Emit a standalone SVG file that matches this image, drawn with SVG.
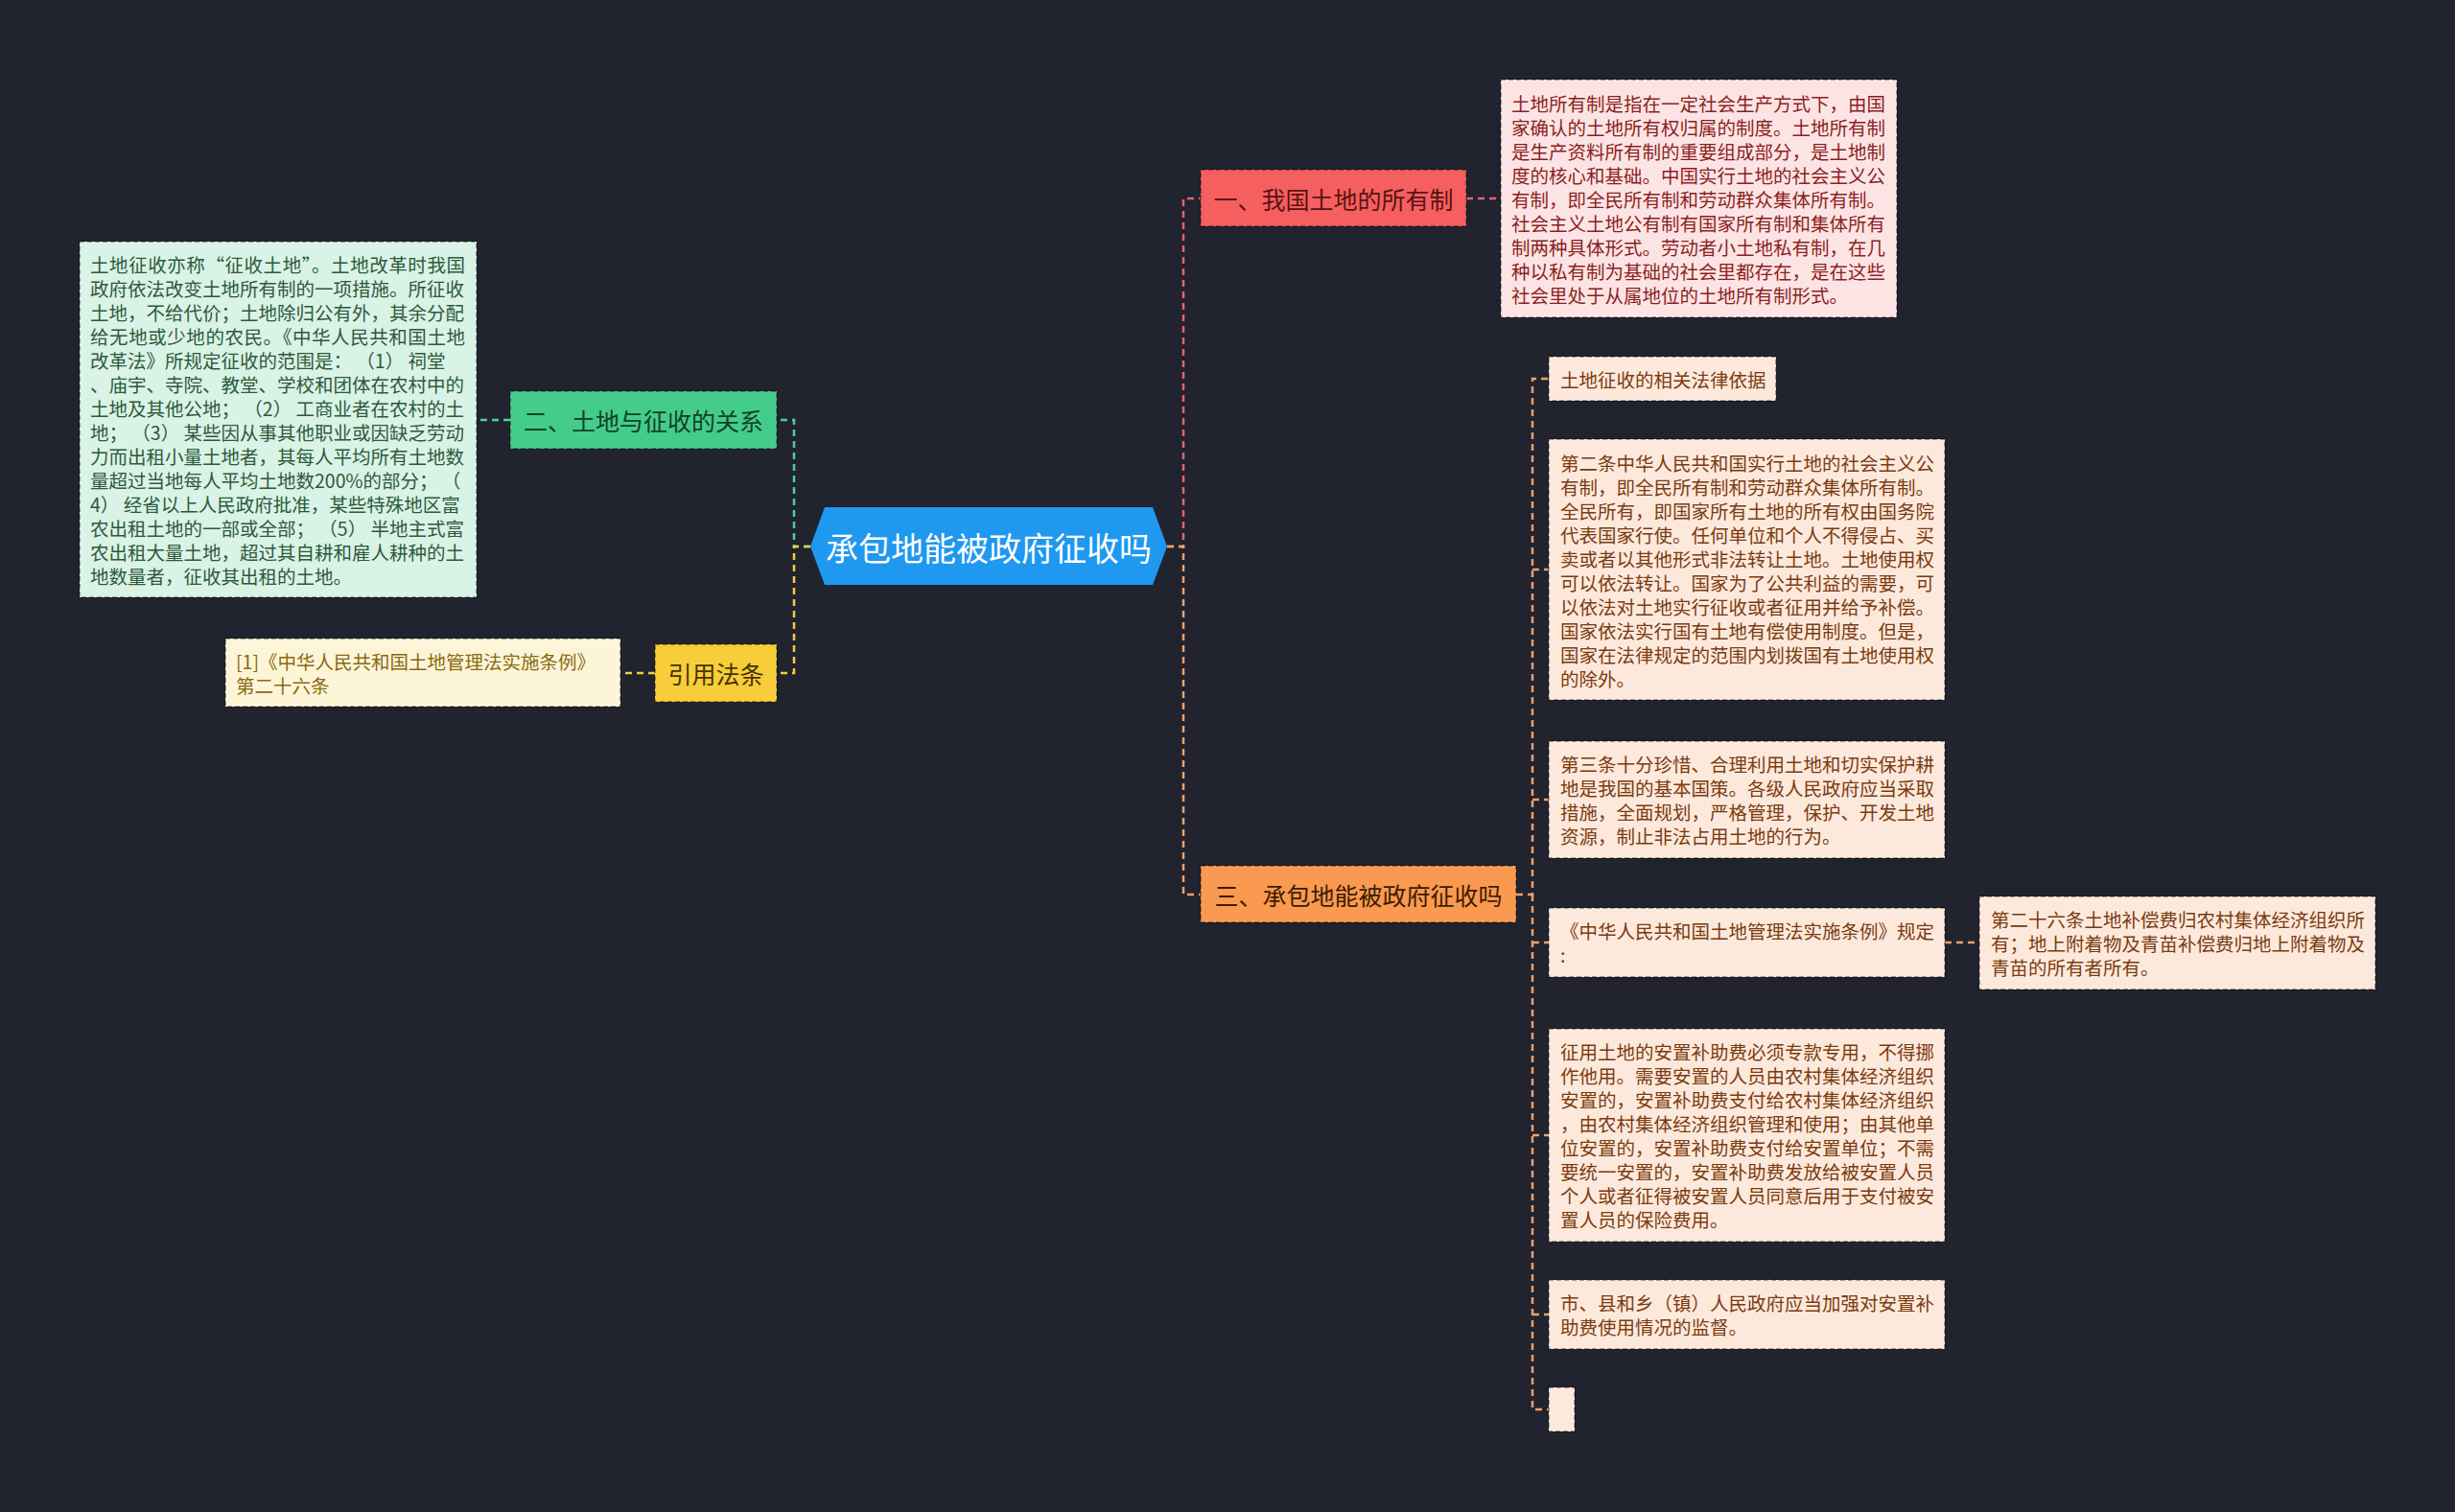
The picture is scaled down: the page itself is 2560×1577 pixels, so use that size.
<svg xmlns="http://www.w3.org/2000/svg" width="2560" height="1577" viewBox="0 0 2560 1577">
<style>
text{font-family:"Noto Sans CJK SC","Noto Sans",sans-serif;dominant-baseline:central}
.c{fill:none;stroke-width:2.5;stroke-dasharray:7 5}
.red{stroke:#e2646c}.org{stroke:#f2a068}.grn{stroke:#4ccf98}.yel{stroke:#f4cd3c}
.nb{stroke:#000;stroke-opacity:.45;stroke-width:1.5;stroke-dasharray:5 3}
.t{font-size:19.5px}
.node{font-size:25px}
.peach{fill:#fde9dc}.pt{fill:#7b3b10}
</style>
<rect width="2560" height="1577" fill="#21232f"/>
<g id="connectors">
<path class="c grn" d="M845 570H828V438H810"/>
<path class="c yel" d="M845 570H828V702H810"/>
<path class="c red" d="M1217 570H1234V207H1252"/>
<path class="c org" d="M1217 570H1234V933H1252"/>
<path class="c red" d="M1529 207H1565"/>
<path class="c grn" d="M532 438H497"/>
<path class="c yel" d="M683 702H647"/>
<path class="c org" d="M1581 933H1598V395H1615"/>
<path class="c org" d="M1598 933V1470H1615"/>
<path class="c org" d="M1598 594H1615M1598 834H1615M1598 983H1615M1598 1184H1615M1598 1371H1615"/>
<path class="c org" d="M2028 983H2064"/>
</g>
<g id="root">
<polygon points="845,570 860,529 1202,529 1217,570 1202,610 860,610" fill="#1f98ef"/>
<text x="1031" y="570" font-size="34" fill="#fff" text-anchor="middle">承包地能被政府征收吗</text>
</g>
<g id="n1">
<rect class="nb" x="1252" y="177" width="277" height="59" fill="#f55f5f"/>
<text class="node" x="1390.5" y="207" fill="#5a1212" text-anchor="middle">一、我国土地的所有制</text>
</g>
<g id="n1t">
<rect class="nb" x="1565" y="83" width="413" height="248" fill="#fde4e4"/>
<g class="t" fill="#8b1f1f">
<text x="1576" y="107">土地所有制是指在一定社会生产方式下，由国</text>
<text x="1576" y="132">家确认的土地所有权归属的制度。土地所有制</text>
<text x="1576" y="157">是生产资料所有制的重要组成部分，是土地制</text>
<text x="1576" y="182">度的核心和基础。中国实行土地的社会主义公</text>
<text x="1576" y="207">有制，即全民所有制和劳动群众集体所有制。</text>
<text x="1576" y="232">社会主义土地公有制有国家所有制和集体所有</text>
<text x="1576" y="257">制两种具体形式。劳动者小土地私有制，在几</text>
<text x="1576" y="282">种以私有制为基础的社会里都存在，是在这些</text>
<text x="1576" y="307">社会里处于从属地位的土地所有制形式。</text>
</g>
</g>
<g id="n2">
<rect class="nb" x="532" y="408" width="278" height="60" fill="#44cc8a"/>
<text class="node" x="671" y="438" fill="#0f4226" text-anchor="middle">二、土地与征收的关系</text>
</g>
<g id="n2t">
<rect class="nb" x="83" y="252" width="414" height="371" fill="#d9f3e7"/>
<g class="t" fill="#2e5a3a" xml:space="preserve">
<text x="94" y="275" textLength="391" lengthAdjust="spacing">土地征收亦称“征收土地”。土地改革时我国</text>
<text x="94" y="300">政府依法改变土地所有制的一项措施。所征收</text>
<text x="94" y="325">土地，不给代价；土地除归公有外，其余分配</text>
<text x="94" y="350" textLength="391" lengthAdjust="spacing">给无地或少地的农民。《中华人民共和国土地</text>
<text x="94" y="375">改革法》所规定征收的范围是： （1） 祠堂</text>
<text x="94" y="400">、庙宇、寺院、教堂、学校和团体在农村中的</text>
<text x="94" y="425">土地及其他公地； （2） 工商业者在农村的土</text>
<text x="94" y="450">地； （3） 某些因从事其他职业或因缺乏劳动</text>
<text x="94" y="475">力而出租小量土地者，其每人平均所有土地数</text>
<text x="94" y="500">量超过当地每人平均土地数200%的部分； （</text>
<text x="94" y="525">4） 经省以上人民政府批准，某些特殊地区富</text>
<text x="94" y="550">农出租土地的一部或全部； （5） 半地主式富</text>
<text x="94" y="575">农出租大量土地，超过其自耕和雇人耕种的土</text>
<text x="94" y="600">地数量者，征收其出租的土地。</text>
</g>
</g>
<g id="n4">
<rect class="nb" x="683" y="672" width="127" height="60" fill="#f8cd3a"/>
<text class="node" x="746.5" y="702" fill="#453400" text-anchor="middle">引用法条</text>
</g>
<g id="n4t">
<rect class="nb" x="235" y="666" width="412" height="71" fill="#fdf5d8"/>
<g class="t" fill="#8a6a10">
<text x="246" y="689">[1]《中华人民共和国土地管理法实施条例》</text>
<text x="246" y="714">第二十六条</text>
</g>
</g>
<g id="n3">
<rect class="nb" x="1252" y="903" width="329" height="59" fill="#f99a50"/>
<text class="node" x="1416.5" y="933" fill="#3d1c00" text-anchor="middle">三、承包地能被政府征收吗</text>
</g>
<g id="c1">
<rect class="nb peach" x="1615" y="372" width="237" height="46"/>
<text class="t pt" x="1627" y="395">土地征收的相关法律依据</text>
</g>
<g id="c2">
<rect class="nb peach" x="1615" y="458" width="413" height="272"/>
<g class="t pt">
<text x="1627" y="482">第二条中华人民共和国实行土地的社会主义公</text>
<text x="1627" y="507">有制，即全民所有制和劳动群众集体所有制。</text>
<text x="1627" y="532">全民所有，即国家所有土地的所有权由国务院</text>
<text x="1627" y="557">代表国家行使。任何单位和个人不得侵占、买</text>
<text x="1627" y="582">卖或者以其他形式非法转让土地。土地使用权</text>
<text x="1627" y="607">可以依法转让。国家为了公共利益的需要，可</text>
<text x="1627" y="632">以依法对土地实行征收或者征用并给予补偿。</text>
<text x="1627" y="657">国家依法实行国有土地有偿使用制度。但是，</text>
<text x="1627" y="682">国家在法律规定的范围内划拨国有土地使用权</text>
<text x="1627" y="707">的除外。</text>
</g>
</g>
<g id="c3">
<rect class="nb peach" x="1615" y="773" width="413" height="122"/>
<g class="t pt">
<text x="1627" y="796.5">第三条十分珍惜、合理利用土地和切实保护耕</text>
<text x="1627" y="821.5">地是我国的基本国策。各级人民政府应当采取</text>
<text x="1627" y="846.5">措施，全面规划，严格管理，保护、开发土地</text>
<text x="1627" y="871.5">资源，制止非法占用土地的行为。</text>
</g>
</g>
<g id="c4">
<rect class="nb peach" x="1615" y="947" width="413" height="72"/>
<g class="t pt">
<text x="1627" y="970.5">《中华人民共和国土地管理法实施条例》规定</text>
<text x="1627" y="995.5">:</text>
</g>
</g>
<g id="c4a">
<rect class="nb peach" x="2064" y="935" width="413" height="97"/>
<g class="t pt">
<text x="2076" y="958.5">第二十六条土地补偿费归农村集体经济组织所</text>
<text x="2076" y="983.5">有；地上附着物及青苗补偿费归地上附着物及</text>
<text x="2076" y="1008.5">青苗的所有者所有。</text>
</g>
</g>
<g id="c5">
<rect class="nb peach" x="1615" y="1073" width="413" height="222"/>
<g class="t pt">
<text x="1627" y="1096.5">征用土地的安置补助费必须专款专用，不得挪</text>
<text x="1627" y="1121.5">作他用。需要安置的人员由农村集体经济组织</text>
<text x="1627" y="1146.5">安置的，安置补助费支付给农村集体经济组织</text>
<text x="1627" y="1171.5">，由农村集体经济组织管理和使用；由其他单</text>
<text x="1627" y="1196.5">位安置的，安置补助费支付给安置单位；不需</text>
<text x="1627" y="1221.5">要统一安置的，安置补助费发放给被安置人员</text>
<text x="1627" y="1246.5">个人或者征得被安置人员同意后用于支付被安</text>
<text x="1627" y="1271.5">置人员的保险费用。</text>
</g>
</g>
<g id="c6">
<rect class="nb peach" x="1615" y="1335" width="413" height="72"/>
<g class="t pt">
<text x="1627" y="1358.5">市、县和乡（镇）人民政府应当加强对安置补</text>
<text x="1627" y="1383.5">助费使用情况的监督。</text>
</g>
</g>
<g id="c7">
<rect class="nb peach" x="1615" y="1447" width="27" height="46"/>
</g>
</svg>
